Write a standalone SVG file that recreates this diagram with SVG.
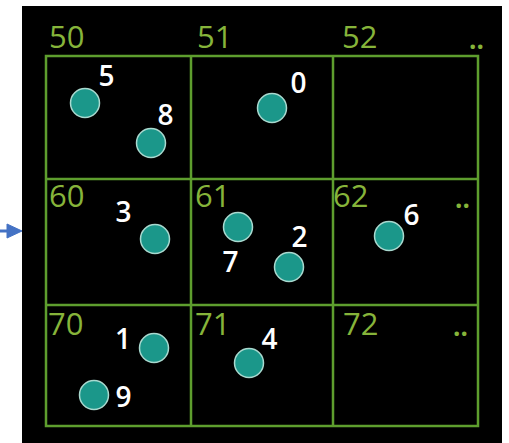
<svg xmlns="http://www.w3.org/2000/svg" width="509" height="443" viewBox="0 0 509 443">
<style>
.grid{fill:none;stroke:#5e9e2e;stroke-width:2.5}
.cell{font-family:"Open Sans","Noto Sans",sans-serif;font-size:31px;fill:#86b43a}
.dots{font-family:"Open Sans","Noto Sans",sans-serif;font-size:26px;font-weight:bold;fill:#86b43a}
.pt{fill:#1b978a;stroke:#a9d9cf;stroke-width:1.5}
.lbl{font-family:"Open Sans","Noto Sans",sans-serif;font-size:28px;font-weight:600;fill:#ffffff}
.arrow{fill:#4472c4;stroke:#4472c4}
</style>
<rect x="0" y="0" width="509" height="443" fill="#ffffff"/>
<rect x="22" y="6" width="480" height="437" fill="#000000"/>
<g id="grid">
<rect class="grid" x="46" y="56" width="432" height="370"/>
<line class="grid" x1="191" y1="56" x2="191" y2="426"/>
<line class="grid" x1="333" y1="56" x2="333" y2="426"/>
<line class="grid" x1="46" y1="179" x2="478" y2="179"/>
<line class="grid" x1="46" y1="305" x2="478" y2="305"/>
</g>
<g id="cell-labels">
<text class="cell" x="49" y="48">50</text>
<text class="cell" x="197" y="48">51</text>
<text class="cell" x="342" y="48">52</text>
<text class="dots" x="469" y="49">..</text>
<text class="cell" x="49" y="207">60</text>
<text class="cell" x="195" y="207">61</text>
<text class="cell" x="333" y="207">62</text>
<text class="dots" x="455" y="208">..</text>
<text class="cell" x="48" y="335">70</text>
<text class="cell" x="195" y="335">71</text>
<text class="cell" x="343" y="335">72</text>
<text class="dots" x="453" y="336">..</text>
</g>
<g id="p5"><circle class="pt" cx="85" cy="103" r="14.5"/><text class="lbl" x="98.5" y="86">5</text></g>
<g id="p8"><circle class="pt" cx="151" cy="143" r="14.5"/><text class="lbl" x="157.5" y="125">8</text></g>
<g id="p0"><circle class="pt" cx="272" cy="108" r="14.5"/><text class="lbl" x="290.5" y="93">0</text></g>
<g id="p3"><circle class="pt" cx="155" cy="239" r="14.5"/><text class="lbl" x="115.5" y="222">3</text></g>
<g id="p7"><circle class="pt" cx="238" cy="227" r="14.5"/><text class="lbl" x="222.5" y="272">7</text></g>
<g id="p2"><circle class="pt" cx="289" cy="267" r="14.5"/><text class="lbl" x="291.5" y="247">2</text></g>
<g id="p6"><circle class="pt" cx="389" cy="236" r="14.5"/><text class="lbl" x="403.5" y="225">6</text></g>
<g id="p1"><circle class="pt" cx="154" cy="348" r="14.5"/><text class="lbl" x="115" y="349">1</text></g>
<g id="p9"><circle class="pt" cx="94" cy="395" r="14.5"/><text class="lbl" x="115.5" y="407">9</text></g>
<g id="p4"><circle class="pt" cx="249" cy="363" r="14.5"/><text class="lbl" x="261.5" y="349">4</text></g>
<g id="connectors">
<line x1="0" y1="231" x2="9" y2="231" stroke="#4472c4" stroke-width="3"/>
<polygon class="arrow" points="7,224 22,231 7,238"/>
</g>
</svg>
